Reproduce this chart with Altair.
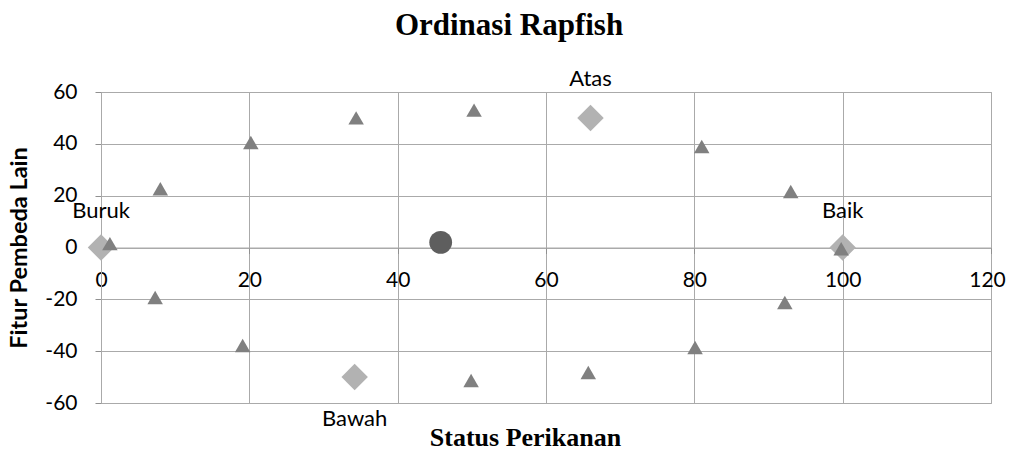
import altair as alt
import pandas as pd

# Triangles (atribut / anchors of the ordination)
tri_x = [1.2, 8.0, 20.2, 34.4, 50.3, 81.0, 93.0, 99.8, 7.3, 19.1, 49.9, 65.7, 80.1, 92.2]
tri_y = [1.5, 22.7, 40.5, 50.0, 53.0, 39.0, 21.6, -0.5, -19.3, -37.8, -51.3, -48.2, -38.6, -21.2]

# Reference diamonds
anchor_names = ["Buruk", "Baik", "Atas", "Bawah"]
anchor_x = [0, 100, 66, 34.2]
anchor_y = [0, 0, 50, -50]
label_y = [14, 14, 65, -66]

# Status point
status_x = [45.8]
status_y = [2.0]

x_ticks = [0, 20, 40, 60, 80, 100, 120]
y_ticks = [-60, -40, -20, 0, 20, 40, 60]

GRID = "#aaaaaa"
TICK = "#909090"
FONT = "Lato"

tri = pd.DataFrame({"x": tri_x, "y": tri_y})
anc = pd.DataFrame({"x": anchor_x, "y": anchor_y, "name": anchor_names, "ly": label_y})
sta = pd.DataFrame({"x": status_x, "y": status_y})

xs = alt.Scale(domain=[0, 120], nice=False, zero=False)
ys = alt.Scale(domain=[-60, 60], nice=False, zero=False)

xaxis = alt.Axis(
    values=x_ticks, grid=True, gridColor=GRID, gridWidth=1,
    domainColor=GRID, tickColor=TICK, tickSize=6,
    labelFont=FONT, labelFontSize=21, labelColor="black", labelPadding=16,
    labelExpr="'' + datum.value", labelFlush=False,
    labelOffset={"condition": {"test": "datum.value == 120", "value": -4}, "value": 0},
    offset=-155.5,
    title="Status Perikanan", titleFont="Liberation Serif", titleFontSize=26,
    titleFontWeight="bold", titleColor="black", titleX=424, titleY=190,
    titleBaseline="middle", titleAlign="center",
)
yaxis = alt.Axis(
    values=y_ticks, grid=True, gridColor=GRID, gridWidth=1,
    domainColor=GRID, tickColor=TICK, tickSize=6,
    labelFont=FONT, labelFontSize=21, labelColor="black", labelPadding=18,
    labelExpr="'' + datum.value", labelFlush=False,
    title="Fitur Pembeda Lain", titleFont=FONT, titleFontSize=23.5,
    titleFontWeight="bold", titleColor="black", titleX=-82, titleY=155.5,
    titleBaseline="middle", titleAlign="center",
)

base_x = alt.X("x:Q", scale=xs, axis=xaxis)
base_y = alt.Y("y:Q", scale=ys, axis=yaxis)

diamonds = alt.Chart(anc).mark_point(
    shape="diamond", filled=True, color="#b2b2b2", size=700, opacity=1
).encode(x=base_x, y=base_y)

labels = alt.Chart(anc).mark_text(
    font=FONT, fontSize=22, color="black", align="center", baseline="middle"
).encode(x=alt.X("x:Q", scale=xs), y=alt.Y("ly:Q", scale=ys), text="name:N")

triangles = alt.Chart(tri).mark_point(
    shape="triangle-up", filled=True, color="#808080", size=240, opacity=1
).encode(x=alt.X("x:Q", scale=xs), y=alt.Y("y:Q", scale=ys))

status = alt.Chart(sta).mark_point(
    shape="circle", filled=True, color="#5e5e5e", size=520, opacity=1
).encode(x=alt.X("x:Q", scale=xs), y=alt.Y("y:Q", scale=ys))

chart = alt.layer(diamonds, triangles, status, labels).properties(
    width=890, height=311,
    title=alt.Title("Ordinasi Rapfish", font="Liberation Serif", fontSize=31,
                    fontWeight="bold", color="black", dx=-37, offset=2,
                    anchor="middle", baseline="alphabetic"),
    autosize=alt.AutoSizeParams(type="none"),
    padding={"left": 93, "top": 84, "right": 15, "bottom": 46},
).configure_view(stroke=GRID, strokeWidth=1)

chart.save("out.html", embed_options={"renderer": "svg", "actions": False})
